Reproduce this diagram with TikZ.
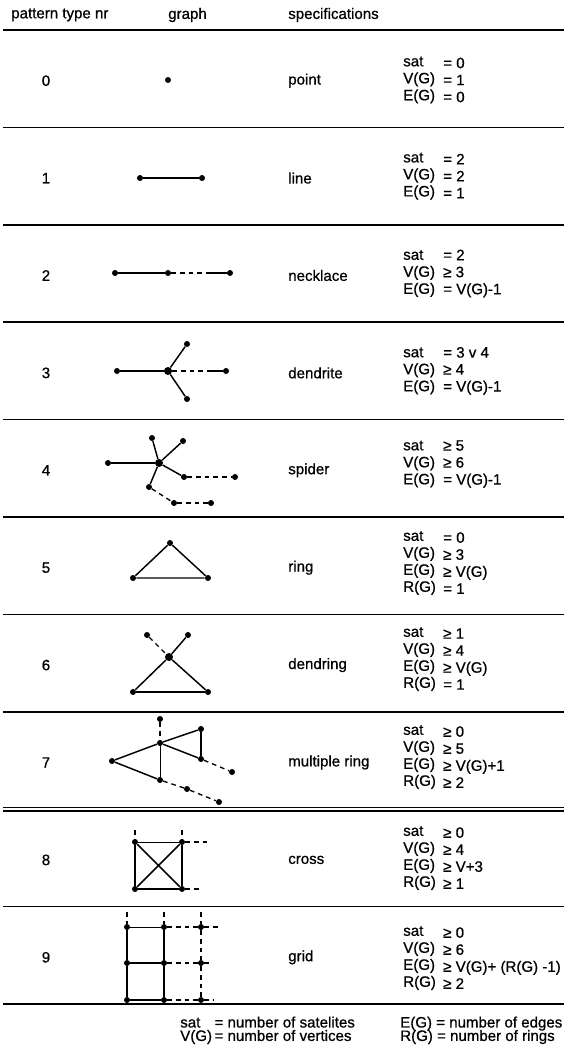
\documentclass[tikz,border=0pt]{standalone}
\usepackage{fontspec}
\setmainfont{Liberation Sans}[FakeBold=0.8]
\begin{document}
\begin{tikzpicture}[x=0.75pt,y=-0.75pt,
  txt/.style={font=\fontsize{11.3}{12.75}\selectfont, inner sep=0pt},
  spec/.style={txt, anchor=west, align=left},
  foot/.style={font=\fontsize{11.3}{11.3}\selectfont, inner sep=0pt, anchor=west},
  dot/.style={circle, fill=black, inner sep=0pt, minimum size=4.5pt},
  hub/.style={circle, fill=black, inner sep=0pt, minimum size=6pt},
  solidedge/.style={line width=1.1pt},
  thinedge/.style={line width=0.7pt},
  dashedge/.style={line width=1pt, dash pattern=on 3.5pt off 3pt},
  rule/.style={line width=1.1pt}]
\useasboundingbox (0,0) rectangle (564,1055);

% header
\node[txt, anchor=west] (h1) at (11,15) {pattern type nr};
\node[txt, anchor=west] (h2) at (168,15) {graph};
\node[txt, anchor=west] (h3) at (288,15) {specifications};

% rules
\foreach \i/\y in {0/30,1/127.4,2/224.8,3/322.2,4/419.6,5/517,6/614.4,7/711.8,9/906.6,10/1004}{
  \coordinate (rl\i) at (3,\y); \coordinate (rr\i) at (564,\y);
  \draw[rule] (rl\i) -- (rr\i);
}
\coordinate (rl8a) at (3,807.5); \coordinate (rr8a) at (564,807.5);
\coordinate (rl8b) at (3,811); \coordinate (rr8b) at (564,811);
\draw[rule] (rl8a) -- (rr8a);
\draw[rule] (rl8b) -- (rr8b);

% numbers, names
\foreach \i/\c/\nm in {0/78.7/point,1/176.1/line,2/273.5/necklace,3/370.9/dendrite,4/468.3/spider,5/565.7/ring,6/663.1/dendring,7/760.5/multiple ring,8/857.9/cross,9/955.3/grid}{
  \node[txt] (n\i) at (46,\c+2) {\i};
  \node[txt, anchor=west] (t\i) at (288,\c+2) {\nm};
}
% specifications
\node[spec] (s0) at (403,80) {sat\\V(G)\\E(G)};
\node[spec] (v0) at (443,80) {= 0\\= 1\\= 0};
\node[spec] (s1) at (403,176.1) {sat\\V(G)\\E(G)};
\node[spec] (v1) at (443,176.1) {= 2\\= 2\\= 1};
\node[spec] (s2) at (403,273.5) {sat\\V(G)\\E(G)};
\node[spec] (v2) at (443,273.5) {= 2\\≥ 3\\= V(G)-1};
\node[spec] (s3) at (403,370.9) {sat\\V(G)\\E(G)};
\node[spec] (v3) at (443,370.9) {= 3 v 4\\≥ 4\\= V(G)-1};
\node[spec] (s4) at (403,464) {sat\\V(G)\\E(G)};
\node[spec] (v4) at (443,464) {≥ 5\\≥ 6\\= V(G)-1};
\node[spec] (s5) at (403,563) {sat\\V(G)\\E(G)\\R(G)};
\node[spec] (v5) at (443,563) {= 0\\≥ 3\\≥ V(G)\\= 1};
\node[spec] (s6) at (403,659) {sat\\V(G)\\E(G)\\R(G)};
\node[spec] (v6) at (443,659) {≥ 1\\≥ 4\\≥ V(G)\\= 1};
\node[spec] (s7) at (403,757) {sat\\V(G)\\E(G)\\R(G)};
\node[spec] (v7) at (443,757) {≥ 0\\≥ 5\\≥ V(G)+1\\≥ 2};
\node[spec] (s8) at (403,858) {sat\\V(G)\\E(G)\\R(G)};
\node[spec] (v8) at (443,858) {≥ 0\\≥ 4\\≥ V+3\\≥ 1};
\node[spec] (s9) at (403,958) {sat\\V(G)\\E(G)\\R(G)};
\node[spec] (v9) at (443,958) {≥ 0\\≥ 6\\≥ V(G)+ (R(G) -1)\\≥ 2};

% footer
\node[foot] (f1) at (180,1031) {\begin{tabular}{@{}l@{\,}l@{}}sat & = number of satelites\\[-1.5pt] V(G) & = number of vertices\end{tabular}};
\node[foot] (f2) at (400,1031) {\begin{tabular}{@{}l@{}}E(G) = number of edges\\[-1.5pt] R(G) = number of rings\end{tabular}};

% row 0: point
\node[dot] (p0) at (168,80) {};

% row 1: line
\node[dot] (a1) at (140,178) {};
\node[dot] (a2) at (202,178) {};
\draw[solidedge] (a1) -- (a2);

% row 2: necklace
\node[dot] (b1) at (115,273) {};
\node[dot] (b2) at (168,273) {};
\node[dot] (b3) at (230,273) {};
\coordinate (b23) at (207,273);
\draw[solidedge] (b1) -- (b2);
\draw[dashedge] (b2) -- (b23);
\draw[solidedge] (b23) -- (b3);

% row 3: dendrite
\node[dot] (c1) at (117,371) {};
\node[hub] (c0) at (168,371) {};
\node[dot] (c2) at (187,344) {};
\node[dot] (c3) at (187,399) {};
\node[dot] (c4) at (226,371) {};
\coordinate (c04) at (207,371);
\draw[solidedge] (c1) -- (c0);
\draw[solidedge] (c0) -- (c2);
\draw[solidedge] (c0) -- (c3);
\draw[dashedge] (c0) -- (c04);
\draw[solidedge] (c04) -- (c4);

% row 4: spider
\node[hub] (d0) at (159,463) {};
\node[dot] (d1) at (108,463) {};
\node[dot] (d2) at (152,438) {};
\node[dot] (d3) at (183,441) {};
\node[dot] (d4) at (184,477) {};
\node[dot] (d5) at (235,477) {};
\node[dot] (d6) at (149,487) {};
\node[dot] (d7) at (174,503) {};
\node[dot] (d8) at (211,503) {};
\draw[solidedge] (d1) -- (d0);
\draw[solidedge] (d2) -- (d0);
\draw[solidedge] (d3) -- (d0);
\draw[solidedge] (d4) -- (d0);
\draw[solidedge] (d6) -- (d0);
\draw[dashedge] (d4) -- (d5);
\draw[dashedge] (d6) -- (d7);
\draw[dashedge] (d7) -- (d8);

% row 5: ring
\node[dot] (e1) at (170,543) {};
\node[dot] (e2) at (133,578) {};
\node[dot] (e3) at (208,578) {};
\draw[solidedge] (e1) -- (e2) -- (e3) -- (e1);

% row 6: dendring
\node[hub] (g0) at (169,657) {};
\node[dot] (g1) at (147,635) {};
\node[dot] (g2) at (188,635) {};
\node[dot] (g3) at (133,692) {};
\node[dot] (g4) at (208,692) {};
\draw[dashedge] (g1) -- (g0);
\draw[solidedge] (g2) -- (g0);
\draw[solidedge] (g0) -- (g3);
\draw[solidedge] (g0) -- (g4);
\draw[solidedge] (g3) -- (g4);

% row 7: multiple ring
\node[dot] (k1) at (160,719) {};
\node[dot] (k0) at (160,743) {};
\node[dot] (k2) at (112,761) {};
\node[dot] (k3) at (201,729) {};
\node[dot] (k4) at (201,759) {};
\node[dot] (k5) at (232,772) {};
\node[dot] (k6) at (160,780) {};
\node[dot] (k7) at (187,789) {};
\node[dot] (k8) at (219,802) {};
\draw[dashedge] (k1) -- (k0);
\draw[solidedge] (k2) -- (k0);
\draw[solidedge] (k0) -- (k3);
\draw[solidedge] (k3) -- (k4);
\draw[solidedge] (k4) -- (k0);
\draw[thinedge] (k0) -- (k6);
\draw[solidedge] (k2) -- (k6);
\draw[dashedge] (k4) -- (k5);
\draw[dashedge] (k6) -- (k7);
\draw[dashedge] (k7) -- (k8);

% row 8: cross
\node[dot] (m1) at (135,842) {};
\node[dot] (m2) at (182,842) {};
\node[dot] (m3) at (135,889) {};
\node[dot] (m4) at (182,889) {};
\coordinate (m1u) at (135,830);
\coordinate (m2u) at (182,830);
\coordinate (m2r) at (208,842);
\coordinate (m4r) at (202,889);
\draw[thinedge] (m1) -- (m2);
\draw[solidedge] (m1) -- (m3);
\draw[solidedge] (m2) -- (m4);
\draw[solidedge] (m3) -- (m4);
\draw[solidedge] (m1) -- (m4);
\draw[solidedge] (m2) -- (m3);
\draw[dashedge] (m1u) -- (m1);
\draw[dashedge] (m2u) -- (m2);
\draw[dashedge] (m2) -- (m2r);
\draw[dashedge] (m4) -- (m4r);

% row 9: grid
\node[dot] (q11) at (127,927) {};
\node[dot] (q12) at (164,927) {};
\node[dot] (q13) at (201,927) {};
\node[dot] (q21) at (127,963) {};
\node[dot] (q22) at (164,963) {};
\node[dot] (q23) at (201,963) {};
\node[dot] (q31) at (127,1000) {};
\node[dot] (q32) at (164,1000) {};
\node[dot] (q33) at (201,1000) {};
\coordinate (q1u) at (127,912);
\coordinate (q2u) at (164,912);
\coordinate (q3u) at (201,912);
\coordinate (q1r) at (220,927);
\coordinate (q2r) at (210,963);
\coordinate (q3r) at (213,1000);
\draw[solidedge] (q11) -- (q21) -- (q31);
\draw[solidedge] (q12) -- (q22) -- (q32);
\draw[thinedge] (q11) -- (q12);
\draw[solidedge] (q21) -- (q22);
\draw[solidedge] (q31) -- (q32);
\draw[dashedge] (q12) -- (q13);
\draw[dashedge] (q22) -- (q23);
\draw[dashedge] (q32) -- (q33);
\draw[dashedge] (q3u) -- (q13) -- (q23) -- (q33);
\draw[dashedge] (q1u) -- (q11);
\draw[dashedge] (q2u) -- (q12);
\draw[dashedge] (q13) -- (q1r);
\draw[dashedge] (q23) -- (q2r);
\draw[dashedge] (q33) -- (q3r);
\end{tikzpicture}
\end{document}
